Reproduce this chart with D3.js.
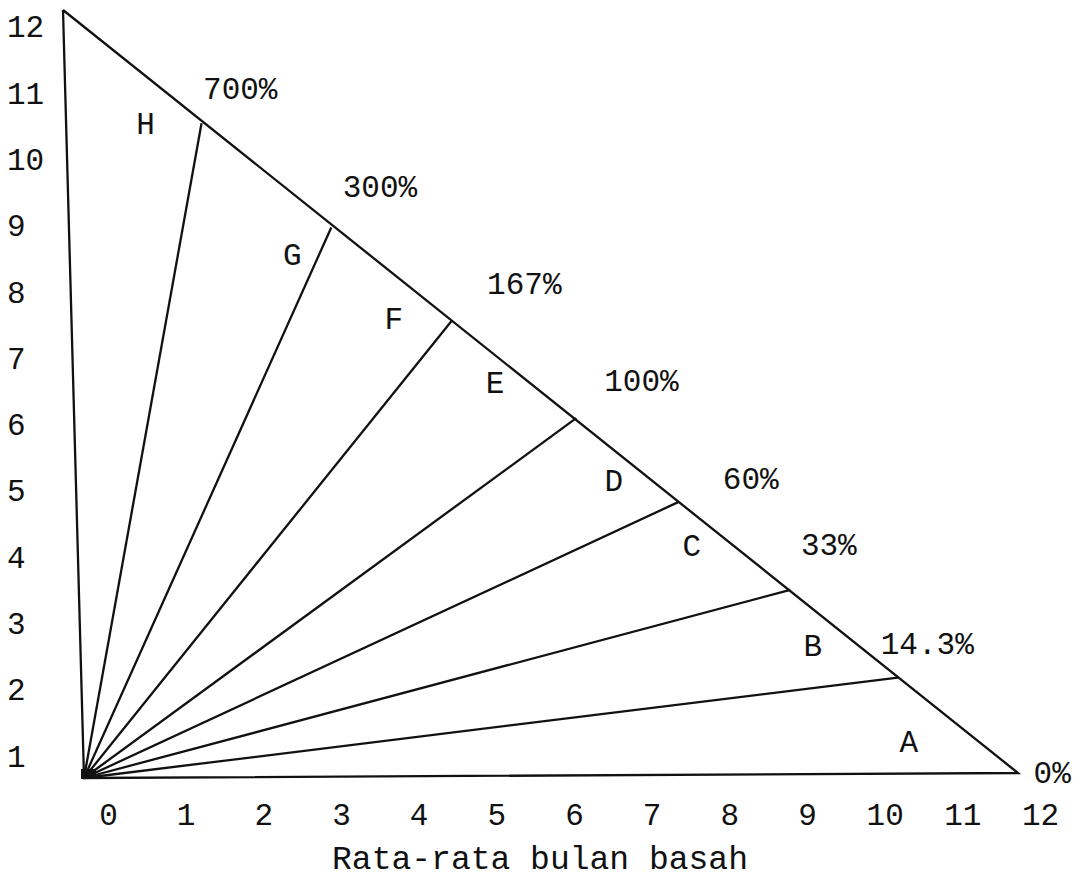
<!DOCTYPE html>
<html><head><meta charset="utf-8">
<script src="https://cdn.jsdelivr.net/npm/d3@7"></script>
<style>
html,body{margin:0;padding:0;background:#fff;}
svg text{font-family:"Liberation Mono","DejaVu Sans Mono",monospace;fill:#111;}
</style></head><body>
<svg id="chart" width="1083" height="893"></svg>
<script>
// ---------- data ----------
const xTicks = [0,1,2,3,4,5,6,7,8,9,10,11,12];
const yTicks = [1,2,3,4,5,6,7,8,9,10,11,12];
const classes = ["A","B","C","D","E","F","G","H"];
const qLabels = ["0%","14.3%","33%","60%","100%","167%","300%","700%"];
// where each Q boundary line meets the hypotenuse (wet months, dry months)
const qEndWet = [12, 10.49, 9.14, 7.73, 6.45, 4.89, 3.37, 1.74];
const qEndDry = [0, 1.50, 2.88, 4.26, 5.58, 7.12, 8.58, 10.22];
const xTitle = "Rata-rata bulan basah";

// ---------- layout (chart units) ----------
const qLabelAt = [[12.44,0.01],[10.88,2.04],[9.65,3.59],[8.67,4.63],[7.30,6.17],[5.83,7.70],[4.01,9.22],[2.25,10.77]];
const classAt  = [[10.61,0.51],[9.41,2.02],[7.89,3.59],[6.91,4.61],[5.42,6.15],[4.14,7.16],[2.86,8.17],[1.02,10.22]];

const svg = d3.select("#chart");
const FS = 31;

// scanned triangle is slightly skewed: affine frame
const origin = [84, 778];
const x = d3.scaleLinear().domain([0,12]).range([0,934]);
const y = d3.scaleLinear().domain([0,12]).range([0,-768]);
const shearX = 21/768, shearY = -5/934;
const P = (u,v) => [origin[0] + x(u) + shearX*y(v), origin[1] + shearY*x(u) + y(v)];

const line = d3.line().x(d => P(d[0],d[1])[0]).y(d => P(d[0],d[1])[1]);

// triangle
svg.append("path")
  .attr("d", line([[0,12],[0,0],[12,0],[0,12]]))
  .attr("fill","none").attr("stroke","#111").attr("stroke-width",2.3)
  .attr("stroke-linejoin","miter");

// Q boundary rays
svg.append("g").selectAll("path").data(qEndWet.slice(1))
  .join("path")
  .attr("d", (d,i) => line([[0,0],[d, qEndDry[i+1]]]))
  .attr("fill","none").attr("stroke","#111").attr("stroke-width",2.3);

// dark blob where rays converge
const o = P(0,0);
svg.append("rect").attr("x",o[0]-3).attr("y",o[1]-9).attr("width",15).attr("height",10).attr("fill","#111");

// Q labels
svg.append("g").selectAll("text").data(qLabels).join("text")
  .attr("x",(d,i)=>P(...qLabelAt[i])[0]).attr("y",(d,i)=>P(...qLabelAt[i])[1])
  .attr("text-anchor","middle").attr("dy","0.35em").attr("font-size",FS)
  .text(d=>d);

// class letters
svg.append("g").selectAll("text").data(classes).join("text")
  .attr("x",(d,i)=>P(...classAt[i])[0]).attr("y",(d,i)=>P(...classAt[i])[1])
  .attr("text-anchor","middle").attr("dy","0.35em").attr("font-size",FS)
  .text(d=>d);

// axes (labels only)
const xl = d3.scaleLinear().domain([0,12]).range([108,1040]);
const gx = svg.append("g").attr("transform","translate(0,814)")
  .call(d3.axisBottom(xl).tickValues(xTicks).tickSize(0).tickPadding(0).tickFormat(d3.format("d")));
gx.select(".domain").remove();
gx.selectAll("text").attr("y",0).attr("dy","0.35em").attr("font-size",FS)
  .attr("font-family",null).attr("fill","#111");

const yl = d3.scaleLinear().domain([0,12]).range([821.6,26]);
const gy = svg.append("g").attr("transform","translate(7,0)")
  .call(d3.axisLeft(yl).tickValues(yTicks).tickSize(0).tickPadding(0).tickFormat(d3.format("d")));
gy.select(".domain").remove();
gy.selectAll("text").attr("x",0).attr("dy","0.35em").attr("text-anchor","start")
  .attr("font-size",FS).attr("font-family",null).attr("fill","#111");
gy.attr("text-anchor","start");

// title
svg.append("text").attr("x",540).attr("y",857).attr("dy","0.35em")
  .attr("text-anchor","middle").attr("font-size",33).text(xTitle);
</script>
</body></html>
